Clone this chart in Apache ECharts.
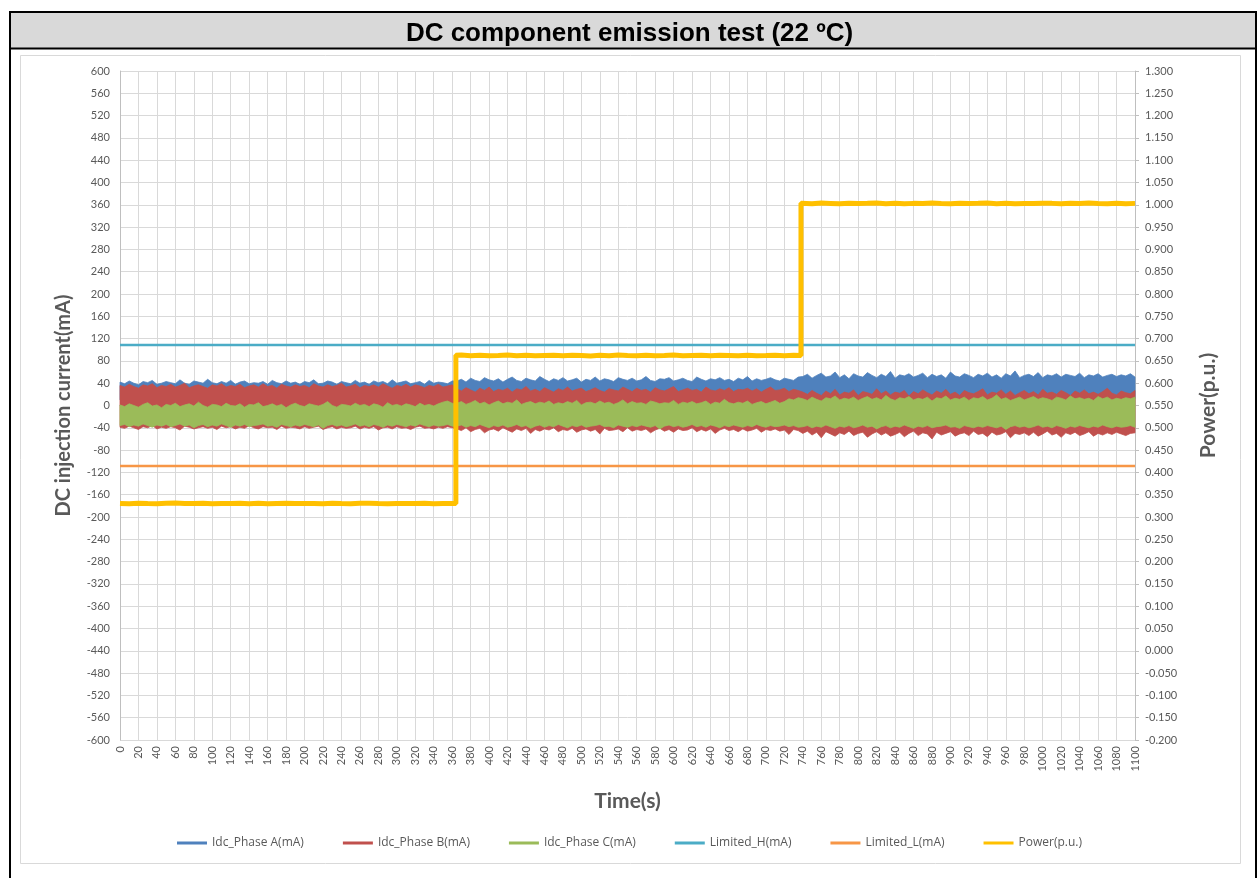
<!DOCTYPE html>
<html>
<head>
<meta charset="utf-8">
<script src="https://cdn.jsdelivr.net/npm/echarts@6/dist/echarts.min.js"></script>
<style>html,body{margin:0;padding:0;background:#fff;}#c{width:1259px;height:878px;}</style>
</head>
<body>
<div id="c"></div>
<script>
// ---------------- DATA ----------------
const sampleStep = 5; // seconds between band samples (index * 5 s)
// Phase A (blue) envelope
const phaseA_hi = [
42,39,44,40,37,43,41,45,38,40,43,41,39,46,40,38,44,42,40,47,41,39,43,40,45,38,42,44,39,41,40,43,38,45,41,39,44,40,42,38,43,41,46,39,40,44,42,38,43,41,39,45,40,42,38,44,41,43,39,46,40,42,44,39,41,43,38,45,40,42,41,39,44,
44,47,42,49,45,43,50,46,44,48,42,47,51,45,43,49,46,44,52,47,43,48,45,50,44,46,49,42,47,45,51,44,48,46,43,50,47,45,49,44,46,52,45,43,48,47,50,44,46,49,45,43,51,47,44,48,46,50,45,47,43,49,46,52,44,48,45,47,50,46,44,49,47,45,51,
52,56,49,54,58,51,53,60,50,55,48,57,53,51,59,54,50,56,52,61,49,55,53,57,51,54,58,50,56,52,55,49,60,53,51,57,54,50,56,53,58,51,55,49,57,53,62,50,54,56,52,59,50,55,53,57,51,56,54,52,58,50,55,53,57,51,54,56,52,55,53,57,51
];
const phaseA_lo = [
10,12,9,11,13,10,8,12,11,9,12,10,13,9,11,10,12,8,11,13,10,9,12,11,10,13,9,11,12,10,11,13,9,10,12,11,8,12,10,11,13,9,11,10,12,10,13,9,11,12,10,11,9,12,13,10,11,9,12,10,11,13,10,9,12,11,10,12,9,11,10,12,11,
12,14,11,13,10,12,15,11,13,12,14,10,12,13,11,15,12,10,13,14,11,12,14,10,13,12,11,15,12,13,10,14,12,11,13,12,15,10,12,14,11,13,12,10,14,12,13,11,15,12,10,13,14,11,12,13,10,14,12,11,13,12,15,10,12,14,11,13,12,10,14,12,11,13,12,
13,11,14,12,10,13,15,11,12,14,10,13,12,11,14,13,10,12,15,11,13,12,14,10,13,11,12,14,13,10,12,15,11,13,12,10,14,12,13,11,14,10,12,13,11,15,12,10,13,14,11,12,13,10,14,12,11,13,12,15,10,13,12,14,11,12,13,10,14,12,11,13,12
];
// Phase B (red) envelope
const phaseB_hi = [
36,33,38,34,31,37,35,39,32,36,34,38,33,36,40,32,35,37,34,31,37,35,39,33,36,34,38,32,35,37,33,39,34,36,31,38,35,33,37,34,36,32,39,35,33,37,34,36,40,33,35,38,32,36,34,37,33,39,35,31,36,34,38,33,37,35,32,36,34,38,33,35,37,
30,26,32,28,24,31,27,33,25,29,27,31,24,30,28,34,26,29,25,32,28,24,30,27,33,26,29,31,25,28,32,27,24,30,28,26,33,29,25,31,27,29,24,32,28,26,30,34,25,28,31,27,29,24,33,28,26,30,27,32,25,29,28,31,26,30,24,29,33,27,28,31,25,29,27,
24,20,27,22,18,26,21,29,19,24,22,28,18,25,23,20,30,21,26,19,24,22,27,17,25,21,28,23,19,26,22,29,20,24,18,27,23,21,25,30,19,24,22,28,20,26,18,23,27,21,25,19,29,22,24,20,27,23,18,26,22,28,21,24,20,25,31,22,19,26,23,21,27
];
const phaseB_lo = [
-39,-41,-37,-40,-43,-38,-40,-36,-42,-39,-41,-38,-40,-44,-37,-39,-42,-40,-38,-41,-39,-43,-37,-40,-38,-42,-39,-41,-36,-40,-42,-38,-40,-39,-43,-37,-41,-39,-40,-42,-38,-41,-39,-37,-43,-40,-38,-42,-39,-41,-40,-37,-42,-39,-41,-38,-44,-40,-39,-42,-38,-41,-40,-43,-39,-37,-41,-40,-42,-39,-41,-38,-40,
-42,-45,-40,-47,-43,-41,-49,-44,-42,-46,-40,-44,-48,-42,-45,-41,-50,-43,-46,-42,-44,-40,-47,-43,-45,-41,-48,-44,-42,-46,-43,-51,-41,-45,-44,-42,-47,-40,-46,-43,-45,-42,-49,-44,-41,-46,-43,-48,-42,-45,-44,-40,-47,-43,-46,-42,-50,-44,-41,-45,-43,-47,-42,-46,-44,-41,-48,-43,-45,-42,-46,-44,-52,-43,-45,
-50,-46,-53,-48,-58,-47,-51,-55,-49,-52,-46,-54,-50,-48,-57,-51,-47,-53,-49,-55,-52,-48,-56,-50,-46,-54,-49,-51,-60,-48,-53,-50,-47,-55,-51,-49,-54,-46,-52,-50,-56,-48,-53,-51,-47,-58,-50,-52,-49,-54,-48,-55,-51,-46,-53,-50,-57,-49,-52,-48,-54,-51,-47,-55,-50,-53,-49,-52,-48,-51,-54,-50,-49
];
// Phase C (green) envelope
const phaseC_hi = [
1,-2,3,0,-3,2,5,-1,1,-4,2,0,4,-2,1,3,-1,6,0,-3,2,1,-2,4,0,-1,3,-3,2,1,5,-2,0,3,-1,2,-4,1,4,0,-2,3,1,-1,2,7,0,-3,2,1,-1,4,0,2,-2,3,1,-3,5,0,2,-1,3,1,-2,4,0,2,-1,3,6,8,4,
4,7,2,5,9,3,6,1,5,8,3,6,4,10,2,5,7,3,6,4,8,2,5,3,7,4,9,1,5,6,3,8,4,6,2,5,10,3,7,4,5,2,8,6,3,5,4,9,2,6,4,7,3,5,8,2,6,4,11,5,3,6,4,8,2,5,7,3,6,9,4,7,12,10,14,
12,9,15,11,8,14,12,17,10,13,11,15,9,13,16,11,14,10,18,12,9,14,12,16,10,13,11,15,8,14,12,17,10,13,11,15,9,14,12,16,10,13,19,11,14,9,12,15,10,13,16,11,14,12,9,15,13,10,17,12,14,11,13,9,16,12,15,10,13,11,14,12,15
];
const phaseC_lo = [
-36,-34,-38,-35,-37,-33,-36,-39,-35,-37,-34,-38,-36,-33,-37,-35,-40,-36,-34,-38,-35,-37,-33,-36,-39,-35,-37,-34,-38,-36,-35,-33,-37,-36,-39,-34,-36,-38,-35,-37,-34,-36,-38,-35,-41,-36,-34,-37,-35,-38,-36,-33,-37,-35,-38,-34,-36,-39,-35,-37,-34,-36,-38,-35,-37,-33,-36,-38,-35,-37,-36,-34,-37,
-37,-35,-39,-36,-38,-34,-37,-40,-36,-38,-35,-39,-37,-34,-38,-36,-41,-37,-35,-39,-36,-38,-34,-37,-40,-36,-38,-35,-39,-37,-36,-34,-38,-37,-40,-35,-37,-39,-36,-38,-35,-37,-39,-36,-42,-37,-35,-38,-36,-39,-37,-34,-38,-36,-39,-35,-37,-40,-36,-38,-35,-37,-39,-36,-38,-34,-37,-39,-36,-38,-37,-35,-38,-36,-39,
-38,-36,-40,-37,-39,-35,-38,-41,-37,-39,-36,-40,-38,-35,-39,-37,-42,-38,-36,-40,-37,-39,-35,-38,-41,-37,-39,-36,-40,-38,-37,-35,-39,-38,-41,-36,-38,-40,-37,-39,-36,-38,-40,-37,-43,-38,-36,-39,-37,-40,-38,-35,-39,-37,-40,-36,-38,-41,-37,-39,-36,-38,-40,-37,-39,-35,-38,-40,-37,-39,-38,-36,-39
];
// Limits
const limitTime = [0, 1100];
const limitH = [108.5, 108.5];
const limitL = [-108.5, -108.5];
// Power (p.u.)
const powerTime = [
0,10,20,30,40,50,60,70,80,90,100,110,120,130,140,150,160,170,180,190,200,210,220,230,240,250,260,270,280,290,300,310,320,330,340,350,360,364,
364,370,380,390,400,410,420,430,440,450,460,470,480,490,500,510,520,530,540,550,560,570,580,590,600,610,620,630,640,650,660,670,680,690,700,710,720,730,738,
738,740,750,760,770,780,790,800,810,820,830,840,850,860,870,880,890,900,910,920,930,940,950,960,970,980,990,1000,1010,1020,1030,1040,1050,1060,1070,1080,1090,1100
];
const powerValue = [
0.3305,0.3298,0.3310,0.3302,0.3296,0.3306,0.3312,0.3300,0.3304,0.3309,0.3297,0.3305,0.3301,0.3311,0.3299,0.3306,0.3296,0.3302,0.3308,0.3300,0.3305,0.3302,0.3297,0.3309,0.3303,0.3299,0.3306,0.3311,0.3302,0.3297,0.3305,0.3300,0.3303,0.3308,0.3299,0.3305,0.3302,0.3302,
0.6625,0.6630,0.6618,0.6626,0.6614,0.6622,0.6632,0.6617,0.6627,0.6615,0.6623,0.6629,0.6618,0.6626,0.6621,0.6612,0.6627,0.6618,0.6630,0.6622,0.6615,0.6626,0.6618,0.6623,0.6631,0.6615,0.6622,0.6627,0.6618,0.6629,0.6622,0.6615,0.6626,0.6618,0.6623,0.6629,0.6618,0.6626,0.6622,
1.0035,1.0035,1.0026,1.0040,1.0031,1.0022,1.0036,1.0027,1.0032,1.0040,1.0026,1.0036,1.0022,1.0032,1.0027,1.0040,1.0031,1.0023,1.0036,1.0027,1.0032,1.0039,1.0026,1.0036,1.0022,1.0031,1.0027,1.0036,1.0032,1.0022,1.0036,1.0027,1.0040,1.0031,1.0026,1.0036,1.0023,1.0032
];
const seriesNames = ['Idc_Phase A(mA)','Idc_Phase B(mA)','Idc_Phase C(mA)','Limited_H(mA)','Limited_L(mA)','Power(p.u.)'];
const seriesColors = ['#4F81BD','#C0504D','#9BBB59','#4BACC6','#F79646','#FFC000'];

// ---------------- CHART ----------------
const chart = echarts.init(document.getElementById('c'), null, {renderer:'canvas'});
const FONT = 'Lato, "Open Sans", sans-serif';
const GREY_TXT = '#595959';

// band drawn through the axes' own scales (api.coord) as one polygon (hi edge forward, lo edge back)
function band(idx, hi, lo) {
  const c = seriesColors[idx];
  const data = hi.map((v, i) => [i * sampleStep, lo[i], v]);
  return {
    name: seriesNames[idx], type: 'custom', data: data, z: 2 + idx,
    encode: { x: 0, y: [1, 2] },
    itemStyle: { color: c },
    renderItem: function (params, api) {
      if (params.dataIndex !== 0) return null;
      const pts = [];
      for (let i = 0; i < data.length; i++) pts.push(api.coord([data[i][0], data[i][2]]));
      for (let i = data.length - 1; i >= 0; i--) pts.push(api.coord([data[i][0], data[i][1]]));
      return { type: 'polygon', shape: { points: pts },
        style: { fill: c, stroke: c, lineWidth: 0.8, lineJoin: 'miter' } };
    }
  };
}

const option = {
  animation: false,
  backgroundColor: '#ffffff',
  title: {
    text: 'DC component emission test (22 ºC)',
    left: 'center', top: 16,
    textStyle: { fontFamily: '"Liberation Sans", Arial, sans-serif', fontWeight: 'bold', fontSize: 26, color: '#000' }
  },
  graphic: [
    { type: 'rect', shape: { x: 11, y: 13, width: 1244, height: 35 }, style: { fill: '#d9d9d9' }, z: -10 },
    { type: 'rect', shape: { x: 10, y: 12, width: 1246, height: 880 }, style: { fill: null, stroke: '#000', lineWidth: 2 }, z: -5 },
    { type: 'line', shape: { x1: 10, y1: 48.5, x2: 1256, y2: 48.5 }, style: { stroke: '#000', lineWidth: 2 }, z: -5 },
    { type: 'rect', shape: { x: 20.5, y: 55.5, width: 1220, height: 808 }, style: { fill: null, stroke: '#d9d9d9', lineWidth: 1 }, z: -5 }
  ],
  legend: {
    data: seriesNames.map((n) => ({ name: n, icon: 'rect' })),
    top: 832, left: 'center', itemWidth: 30, itemHeight: 3, itemGap: 39,
    textStyle: { fontFamily: '"Open Sans", sans-serif', fontSize: 12, color: GREY_TXT }
  },
  grid: { left: 120, right: 124, top: 71, bottom: 138, containLabel: false },
  xAxis: {
    type: 'value', min: 0, max: 1100, interval: 20,
    name: 'Time(s)', nameLocation: 'middle', nameGap: 51,
    nameTextStyle: { fontFamily: FONT, fontWeight: 'bold', fontSize: 21, color: GREY_TXT },
    axisLine: { lineStyle: { color: '#bfbfbf' } },
    axisTick: { show: true, length: 4, lineStyle: { color: '#bfbfbf' } },
    axisLabel: { rotate: 90, fontFamily: FONT, fontSize: 11, color: GREY_TXT, margin: 6,
      formatter: (v) => String(Math.round(v)) },
    splitLine: { show: true, lineStyle: { color: '#d9d9d9', width: 1 } }
  },
  yAxis: [
    {
      type: 'value', min: -600, max: 600, interval: 40,
      name: 'DC injection current(mA)', nameLocation: 'middle', nameGap: 46,
      nameTextStyle: { fontFamily: FONT, fontWeight: 'bold', fontSize: 20, color: GREY_TXT },
      axisLine: { show: true, lineStyle: { color: '#bfbfbf' } },
      axisTick: { show: false },
      axisLabel: { fontFamily: FONT, fontSize: 11, color: GREY_TXT, margin: 10,
        formatter: (v) => String(Math.round(v)) },
      splitLine: { show: true, lineStyle: { color: '#d9d9d9', width: 1 } }
    },
    {
      type: 'value', min: -0.2, max: 1.3, interval: 0.05, position: 'right',
      name: 'Power(p.u.)', nameLocation: 'middle', nameGap: 63,
      nameTextStyle: { fontFamily: FONT, fontWeight: 'bold', fontSize: 21, color: GREY_TXT },
      axisLine: { show: true, lineStyle: { color: '#bfbfbf' } },
      axisTick: { show: true, length: 4, lineStyle: { color: '#bfbfbf' } },
      axisLabel: { fontFamily: FONT, fontSize: 11, color: GREY_TXT, margin: 10,
        formatter: (v) => (Math.abs(v) < 1e-9 ? 0 : v).toFixed(3) },
      splitLine: { show: false }
    }
  ],
  series: [
    band(0, phaseA_hi, phaseA_lo),
    band(1, phaseB_hi, phaseB_lo),
    band(2, phaseC_hi, phaseC_lo),
    { name: seriesNames[3], type: 'line', data: limitTime.map((t, i) => [t, limitH[i]]), symbol: 'none',
      lineStyle: { width: 2.5, color: seriesColors[3] }, itemStyle: { color: seriesColors[3] }, z: 6 },
    { name: seriesNames[4], type: 'line', data: limitTime.map((t, i) => [t, limitL[i]]), symbol: 'none',
      lineStyle: { width: 2.5, color: seriesColors[4] }, itemStyle: { color: seriesColors[4] }, z: 6 },
    { name: seriesNames[5], type: 'line', yAxisIndex: 1, data: powerTime.map((t, i) => [t, powerValue[i]]), symbol: 'none',
      lineStyle: { width: 5, color: seriesColors[5] }, itemStyle: { color: seriesColors[5] }, z: 7 }
  ]
};
chart.setOption(option);
</script>
</body>
</html>
